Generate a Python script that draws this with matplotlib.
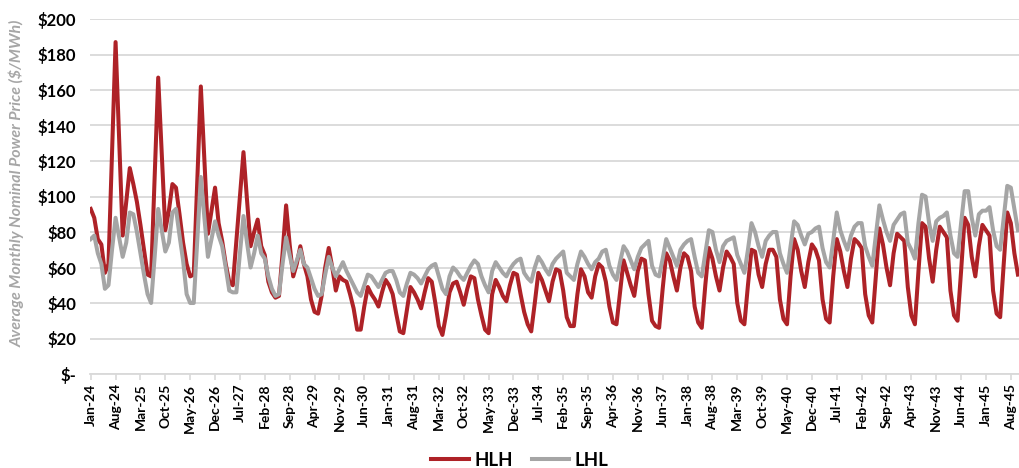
import matplotlib
matplotlib.use("Agg")
import matplotlib.pyplot as plt
import numpy as np
import pandas as pd

# Monthly series Jan-24 .. Oct-45 ($/MWh)
hlh = [
    # 2024
    93, 88, 76, 73, 57, 62, 125, 187, 132, 78, 97, 116,
    # 2025
    107, 97, 84, 70, 56, 55, 111, 167, 124, 81, 92, 107,
    # 2026
    105, 90, 74, 62, 55, 56, 109, 162, 120, 79, 92, 105,
    # 2027
    85, 75, 62, 52, 50, 75, 100, 125, 98, 72, 80, 87,
    # 2028
    72, 67, 52, 46, 43, 44, 68, 95, 73, 55, 62, 72,
    # 2029
    62, 55, 42, 35, 34, 44, 60, 71, 60, 47, 55, 53,
    # 2030
    52, 45, 37, 25, 25, 38, 49, 45, 42, 38, 46, 53,
    # 2031
    50, 45, 34, 24, 23, 36, 49, 46, 42, 37, 46, 54,
    # 2032
    52, 40, 27, 22, 33, 46, 51, 52, 46, 39, 48, 55,
    # 2033
    54, 42, 33, 25, 23, 45, 53, 49, 44, 41, 50, 57,
    # 2034
    56, 45, 35, 28, 24, 40, 57, 53, 47, 41, 52, 59,
    # 2035
    58, 47, 32, 27, 27, 45, 59, 55, 46, 43, 55, 62,
    # 2036
    60, 52, 38, 29, 28, 46, 64, 57, 50, 44, 58, 65,
    # 2037
    64, 45, 30, 27, 26, 48, 68, 64, 55, 47, 60, 68,
    # 2038
    66, 58, 38, 29, 26, 50, 71, 65, 55, 47, 60, 69,
    # 2039
    66, 62, 40, 30, 28, 50, 70, 69, 56, 49, 62, 70,
    # 2040
    70, 66, 42, 31, 28, 55, 76, 70, 58, 49, 63, 73,
    # 2041
    70, 64, 42, 31, 29, 55, 76, 69, 58, 49, 65, 76,
    # 2042
    74, 71, 45, 33, 29, 55, 82, 73, 60, 50, 68, 79,
    # 2043
    77, 75, 49, 33, 28, 58, 85, 83, 65, 52, 70, 83,
    # 2044
    80, 77, 47, 33, 30, 58, 88, 84, 66, 55, 72, 84,
    # 2045
    81, 78, 47, 34, 32, 62, 91, 85, 68, 56,
]

lhl = [
    # 2024
    76, 78, 68, 62, 48, 50, 70, 88, 77, 66, 74, 91,
    # 2025
    90, 80, 68, 56, 45, 40, 66, 93, 81, 69, 74, 91,
    # 2026
    93, 78, 64, 45, 40, 40, 75, 111, 88, 66, 76, 86,
    # 2027
    78, 72, 60, 47, 46, 46, 68, 89, 74, 60, 68, 78,
    # 2028
    68, 65, 55, 48, 44, 45, 62, 77, 67, 58, 64, 70,
    # 2029
    62, 60, 54, 48, 44, 45, 56, 66, 60, 55, 59, 63,
    # 2030
    58, 54, 50, 46, 44, 50, 56, 55, 52, 49, 53, 57,
    # 2031
    58, 58, 53, 46, 44, 51, 57, 56, 54, 51, 55, 59,
    # 2032
    61, 62, 55, 48, 45, 55, 60, 58, 55, 53, 57, 61,
    # 2033
    64, 62, 55, 50, 46, 58, 63, 60, 57, 55, 59, 62,
    # 2034
    64, 65, 57, 54, 52, 60, 66, 63, 59, 56, 62, 65,
    # 2035
    67, 69, 57, 55, 53, 62, 69, 66, 62, 59, 63, 65,
    # 2036
    69, 70, 61, 56, 53, 63, 72, 69, 64, 59, 66, 71,
    # 2037
    73, 75, 61, 56, 55, 65, 76, 71, 66, 61, 70, 73,
    # 2038
    75, 76, 66, 57, 55, 68, 81, 80, 70, 63, 72, 75,
    # 2039
    76, 77, 67, 62, 57, 70, 85, 80, 72, 66, 75, 78,
    # 2040
    80, 80, 68, 62, 57, 72, 86, 84, 78, 73, 79, 80,
    # 2041
    82, 83, 71, 63, 60, 75, 91, 81, 75, 70, 78, 83,
    # 2042
    85, 85, 72, 66, 61, 78, 95, 87, 80, 75, 84, 87,
    # 2043
    90, 91, 74, 70, 65, 85, 101, 100, 85, 75, 86, 88,
    # 2044
    89, 91, 78, 68, 66, 85, 103, 103, 88, 78, 90, 92,
    # 2045
    92, 94, 81, 72, 70, 88, 106, 105, 93, 81,
]

months = pd.date_range("2024-01-01", periods=len(hlh), freq="MS")
tick_labels = [d.strftime("%b-%y") for d in months[::7]]
y_ticks = [0, 20, 40, 60, 80, 100, 120, 140, 160, 180, 200]
y_labels = ["$-" if v == 0 else f"${v}" for v in y_ticks]

RED = "#AE2227"
GRAY = "#A5A5A5"
FONT = "Lato"

fig = plt.figure(figsize=(10.19, 4.68), dpi=100)
ax = fig.add_axes([90 / 1019, 1 - 374 / 468, 1 - 90 / 1019, (374 - 19) / 468])

x = np.arange(len(hlh))
ax.plot(x, hlh, color=RED, lw=2.9, label="HLH", solid_joinstyle="round", zorder=3)
ax.plot(x, lhl, color=GRAY, lw=2.9, label="LHL", solid_joinstyle="round", zorder=4)

ax.set_ylim(0, 200)
ax.set_xlim(-0.2, 261.3)
ax.set_yticks(y_ticks)
ax.set_yticklabels(y_labels, fontfamily=FONT, fontweight="bold", fontsize=12)
ax.tick_params(axis="y", length=0, pad=10)
ax.yaxis.grid(True, color="#D9D9D9", lw=1.3)
ax.set_axisbelow(True)

ax.set_xticks(x[::7])
ax.set_xticklabels(tick_labels, rotation=90, fontfamily=FONT, fontweight="bold", fontsize=10)
ax.tick_params(axis="x", length=4, color="#D9D9D9", width=1.2, pad=3)

for s in ["left", "right", "top"]:
    ax.spines[s].set_visible(False)
ax.spines["bottom"].set_color("#D9D9D9")
ax.spines["bottom"].set_linewidth(1.3)

fig.text(17 / 1019, 1 - 183 / 468, "Average Monthly Nominal Power Price ($/MWh)",
         rotation=90, ha="center", va="center", color="#A6A6A6",
         fontfamily=FONT, fontstyle="italic", fontweight="bold", fontsize=11.5)

leg = fig.legend(loc="center", bbox_to_anchor=(520 / 1019, 1 - 460 / 468), ncol=2,
                 frameon=False, handlelength=2.0, columnspacing=1.0, handletextpad=0.3,
                 prop={"family": FONT, "weight": "bold", "size": 13.5})

fig.savefig("out.png", dpi=100)
